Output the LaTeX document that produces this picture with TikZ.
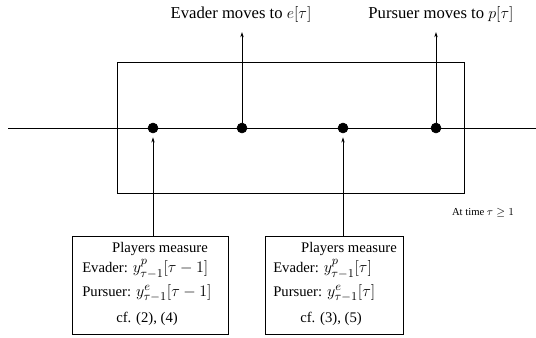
\documentclass[tikz,border=0pt]{standalone}
\usepackage{amsmath,amssymb}
\usepackage{fontspec}
\setmainfont{Liberation Serif}
\usepackage{tikz}
\usetikzlibrary{arrows.meta,positioning,calc}
\newcommand{\meas}[1]{{\fontsize{12.3}{14}\selectfont$#1$}}

\begin{document}
\begin{tikzpicture}[
    x=0.75pt, y=-0.75pt,
    font=\fontsize{11}{13}\selectfont,
    dot/.style={draw, circle, fill=black, minimum size=7.5pt, inner sep=0pt},
    arr/.style={-{Stealth[length=4pt,width=2.5pt]}, semithick},
    frame/.style={draw, semithick},
    mbox/.style={draw, semithick, rectangle, inner sep=0pt},
    lbl/.style={inner sep=1pt, font=\fontsize{12.5}{15}\selectfont},
    row/.style={inner sep=0pt},
]
\useasboundingbox (0,0) rectangle (536,337);

% Time axis and observation window
\coordinate (axL) at (8,128);
\coordinate (axR) at (536,128);
\draw[semithick] (axL) -- (axR);
\draw[frame] (117,62) rectangle (464,193);

% Instants on the axis
\node[dot] (d1) at (153,128) {};
\node[dot] (d2) at (242,128) {};
\node[dot] (d3) at (343,128) {};
\node[dot] (d4) at (436,128) {};

% Moves
\coordinate (evtip) at (242,32);
\coordinate (putip) at (436,32);
\node[lbl] (evlbl) at (241,14) {Evader moves to $e[\tau]$};
\node[lbl] (pulbl) at (441,14) {Pursuer moves to $p[\tau]$};
\draw[arr] (d2) -- (evtip);
\draw[arr] (d4) -- (putip);

\node[inner sep=1pt, font=\fontsize{8}{9}\selectfont] (time) at (483,213) {At time $\tau \geq 1$};

% Measurements, left box
\node[mbox, minimum width=117pt, minimum height=73.5pt] (m1) at (150,285) {};
\node[row] (m1h) at (160,249) {Players measure};
\node[row, anchor=west] (m1e) at (82,269) {Evader: \meas{y^{p}_{\tau-1}[\tau-1]}};
\node[row, anchor=west] (m1p) at (82,293) {Pursuer: \meas{y^{e}_{\tau-1}[\tau-1]}};
\node[row] (m1c) at (147,319) {cf. (2), (4)};

% Measurements, right box
\node[mbox, minimum width=103.5pt, minimum height=73.5pt] (m2) at (334,285) {};
\node[row] (m2h) at (349,249) {Players measure};
\node[row, anchor=west] (m2e) at (273,269) {Evader: \meas{y^{p}_{\tau-1}[\tau]}};
\node[row, anchor=west] (m2p) at (273,293) {Pursuer: \meas{y^{e}_{\tau-1}[\tau]}};
\node[row] (m2c) at (331,319) {cf. (3), (5)};

\draw[arr, shorten >=3pt] (m1.north -| d1) -- (d1);
\draw[arr, shorten >=3pt] (m2.north -| d3) -- (d3);
\end{tikzpicture}
\end{document}
